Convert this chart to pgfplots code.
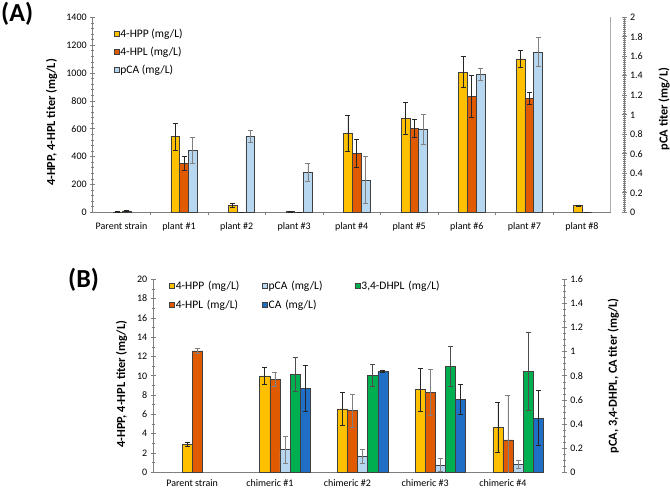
\documentclass[border=0pt]{standalone}
\usepackage{pgfplots}
\pgfplotsset{compat=1.18}
\usepackage{pgfplotstable}
\usepackage{fontspec}
\setmainfont{Carlito}

\definecolor{cHPP}{HTML}{FFC000}
\definecolor{cHPL}{HTML}{E05A00}
\definecolor{cPCA}{HTML}{B7D7F0}
\definecolor{cDHPL}{HTML}{00B050}
\definecolor{cCA}{HTML}{1F6FC6}
\definecolor{axgray}{HTML}{7F7F7F}

\pgfplotstableread{
x hpp hppe hpl hple pca pcae
0 3 2 10 4 nan nan
1 543 96 352 52 0.636 0.136
2 50 15 2 0 0.783 0.061
3 5 2 2 0 0.41 0.094
4 567 130 424 100 0.33 0.243
5 675 115 603 65 0.855 0.153
6 1007 110 830 150 1.414 0.058
7 1101 61 818 40 1.642 0.148
8 47 4 1 0 nan nan
}\dataA

\pgfplotstableread{
x hpp hppe hpl hple pca pcae dhpl dhple ca cae
0 2.90 0.20 12.57 0.25 nan nan nan nan nan nan
1 9.98 0.86 9.60 0.72 0.187 0.110 0.812 0.142 0.693 0.190
2 6.56 1.69 6.38 1.71 0.129 0.058 0.804 0.088 0.834 0.008
3 8.56 2.20 8.32 2.38 0.060 0.052 0.875 0.166 0.605 0.128
4 4.69 2.60 3.35 4.59 0.066 0.036 0.837 0.323 0.450 0.230
}\dataB

\pgfplotsset{
  common/.style={
    scale only axis,
    xmin=-0.5, ymin=0,
    ybar,
    enlargelimits=false,
    tick align=center,
    major tick length=5pt,
    minor tick length=3pt,
    axis line style={axgray, line width=0.8pt},
    tick style={axgray, line width=0.6pt},
    tick label style={font=\fontsize{10}{12}\selectfont, black},
    label style={font=\bfseries\fontsize{12.3}{14}\selectfont},
    /pgf/number format/assume math mode=true,
    /pgf/number format/1000 sep={},
    scaled ticks=false,
  },
  sqlegend/.style={/pgfplots/legend image code/.code={\draw[##1] (0pt,-2.6pt) rectangle (5.2pt,2.6pt);}},
  bstyle/.style={draw=black!75, line width=0.6pt, fill=#1},
  errs/.style={/pgfplots/error bars/y dir=both, /pgfplots/error bars/y explicit,
    /pgfplots/error bars/error bar style={line width=0.7pt, #1},
    /pgfplots/error bars/error mark options={rotate=90, mark size=2.5pt, line width=0.7pt, #1}},
}

\begin{document}
\begin{tikzpicture}
\useasboundingbox (0pt,0pt) rectangle (670pt,490pt);

% ---------------- Panel A primary ----------------
\begin{axis}[common,
  at={(92.7pt,277.7pt)}, anchor=south west,
  width=518pt, height=195pt,
  xmax=8.5, ymax=1400,
  bar width=0.153,
  axis x line*=bottom, axis y line*=left,
  xtick={0,...,8},
  xticklabels={Parent strain, plant \#1, plant \#2, plant \#3, plant \#4, plant \#5, plant \#6, plant \#7, plant \#8},
  xticklabel style={yshift=-2pt},
  major x tick style={draw=none},
  minor xtick={0.5,1.5,...,7.5},
  xtick align=outside,
  ytick={0,200,...,1400},
  minor y tick num=4,
  ylabel={4-HPP, 4-HPL titer (mg/L)},
  ylabel style={at={(axis description cs:-0.0792,0.4605)}, anchor=center},
  legend style={at={(axis description cs:0.04,0.945)}, anchor=north west, draw=none, fill=none,
    font=\fontsize{11.5}{13.5}\selectfont, row sep=6pt, inner sep=0pt, nodes={inner sep=1pt}},
  legend cell align=left,
]
\addlegendimage{sqlegend, fill=cHPP, draw=black!75, line width=0.6pt}
\addlegendentry{4-HPP (mg/L)}
\addlegendimage{sqlegend, fill=cHPL, draw=black!75, line width=0.6pt}
\addlegendentry{4-HPL (mg/L)}
\addlegendimage{sqlegend, fill=cPCA, draw=black!75, line width=0.6pt}
\addlegendentry{pCA (mg/L)}
\addplot[bstyle=cHPP, bar shift=-0.066, errs=black!85] table[x=x,y=hpp,y error=hppe]{\dataA};
\addplot[bstyle=cHPL, bar shift=0.087, errs=black!85] table[x=x,y=hpl,y error=hple]{\dataA};
\draw[axgray, line width=0.8pt] (rel axis cs:1,0) -- (rel axis cs:1,1);
\end{axis}

% ---------------- Panel A secondary ----------------
\begin{axis}[common,
  at={(92.7pt,277.7pt)}, anchor=south west,
  width=531.3pt, height=195pt,
  xmax=8.731, ymax=2,
  bar width=0.153,
  axis x line=none, axis y line*=right,
  ytick={0,0.2,0.4,0.6,0.8,1,1.2,1.4,1.6,1.8,2},
  minor y tick num=9,
  ylabel={pCA titer (mg/L)},
  ylabel style={at={(axis description cs:1.0753,0.53)}, anchor=center},
]
\addplot[bstyle=cPCA, bar shift=0.2398, errs=black!50] table[x=x,y=pca,y error=pcae]{\dataA};
\end{axis}

% ---------------- Panel B primary ----------------
\begin{axis}[common,
  at={(153.3pt,17.7pt)}, anchor=south west,
  width=388.4pt, height=193pt,
  xmax=4.5, ymax=20,
  bar width=0.130,
  axis x line*=bottom, axis y line*=left,
  xtick={0,...,4},
  xticklabels={Parent strain, chimeric \#1, chimeric \#2, chimeric \#3, chimeric \#4},
  xticklabel style={yshift=-1pt},
  major x tick style={draw=none},
  ytick={0,2,...,20},
  minor y tick num=1,
  ylabel={4-HPP, 4-HPL titer (mg/L)},
  ylabel style={at={(axis description cs:-0.0814,0.4565)}, anchor=center},
  legend columns=3,
  legend style={at={(axis description cs:0.04,0.997)}, anchor=north west, draw=none, fill=none,
    font=\fontsize{11.5}{13.5}\selectfont, row sep=7pt, inner sep=0pt,
    nodes={inner sep=1pt},
    /tikz/every even column/.append style={column sep=3pt, text width=82pt, align=left}},
  legend cell align=left,
]
\addlegendimage{sqlegend, fill=cHPP, draw=black!75, line width=0.6pt}
\addlegendentry{4-HPP (mg/L)}
\addlegendimage{sqlegend, fill=cPCA, draw=black!75, line width=0.6pt}
\addlegendentry{pCA (mg/L)}
\addlegendimage{sqlegend, fill=cDHPL, draw=black!75, line width=0.6pt}
\addlegendentry{3,4-DHPL (mg/L)}
\addlegendimage{sqlegend, fill=cHPL, draw=black!75, line width=0.6pt}
\addlegendentry{4-HPL (mg/L)}
\addlegendimage{sqlegend, fill=cCA, draw=black!75, line width=0.6pt}
\addlegendentry{CA (mg/L)}
\addplot[bstyle=cHPP, bar shift=-0.0644, errs=black!85] table[x=x,y=hpp,y error=hppe]{\dataB};
\addplot[bstyle=cHPL, bar shift=0.0657, errs=black!50] table[x=x,y=hpl,y error=hple]{\dataB};
\end{axis}

% ---------------- Panel B secondary ----------------
\begin{axis}[common,
  at={(153.3pt,17.7pt)}, anchor=south west,
  width=411pt, height=193pt,
  xmax=4.791, ymax=1.6,
  bar width=0.130,
  axis x line=none, axis y line*=right,
  ytick={0,0.2,0.4,0.6,0.8,1,1.2,1.4,1.6},
  minor y tick num=3,
  ylabel={pCA, 3,4-DHPL, CA titer (mg/L)},
  ylabel style={at={(axis description cs:1.1192,0.5)}, anchor=center},
]
\addplot[bstyle=cPCA, bar shift=0.1957, errs=black!50] table[x=x,y=pca,y error=pcae]{\dataB};
\addplot[bstyle=cDHPL, bar shift=0.3257, errs=black!70] table[x=x,y=dhpl,y error=dhple]{\dataB};
\addplot[bstyle=cCA, bar shift=0.4557, errs=black!85] table[x=x,y=ca,y error=cae]{\dataB};
\end{axis}

\node[anchor=base west, inner sep=0pt, font=\bfseries\fontsize{26}{30}\selectfont] at (1pt,468.5pt) {(A)};
\node[anchor=base west, inner sep=0pt, font=\bfseries\fontsize{26}{30}\selectfont] at (68pt,202pt) {(B)};
\end{tikzpicture}
\end{document}
